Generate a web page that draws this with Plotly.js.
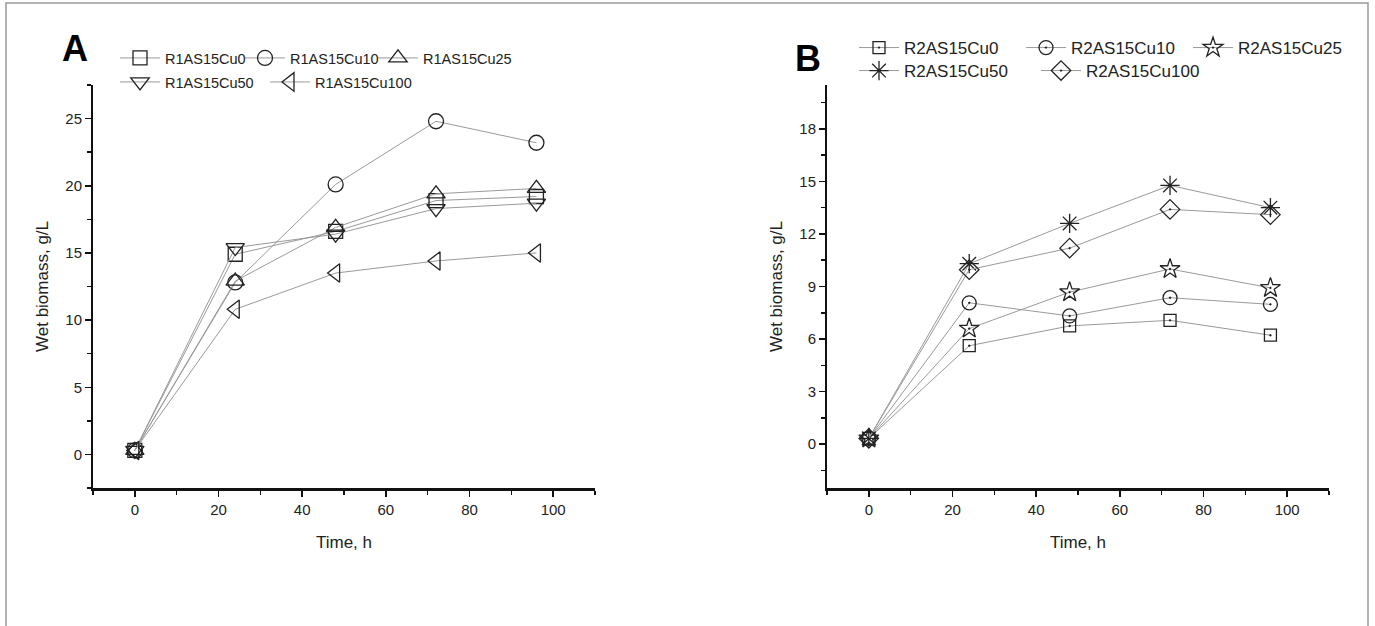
<!DOCTYPE html>
<html>
<head>
<meta charset="utf-8">
<script src="https://cdn.plot.ly/plotly-3.0.1.min.js"></script>
<style>html,body{margin:0;padding:0;background:#fff;}#chart{width:1375px;height:626px;}</style>
</head>
<body>
<div id="chart"></div>
<script>
// Time points (h)
const timeH = [0, 24, 48, 72, 96];

// Panel A: R1 series (wet biomass, g/L)
const namesA = ['R1AS15Cu0', 'R1AS15Cu10', 'R1AS15Cu25', 'R1AS15Cu50', 'R1AS15Cu100'];
const r1Cu0   = [0.3, 14.9, 16.6, 18.9, 19.2];
const r1Cu10  = [0.3, 12.8, 20.1, 24.8, 23.2];
const r1Cu25  = [0.3, 12.9, 16.9, 19.4, 19.8];
const r1Cu50  = [0.3, 15.4, 16.4, 18.3, 18.7];
const r1Cu100 = [0.3, 10.8, 13.5, 14.4, 15.0];

// Panel B: R2 series (wet biomass, g/L)
const namesB = ['R2AS15Cu0', 'R2AS15Cu10', 'R2AS15Cu25', 'R2AS15Cu50', 'R2AS15Cu100'];
const r2Cu0   = [0.33, 5.62, 6.75, 7.07, 6.22];
const r2Cu10  = [0.33, 8.07, 7.32, 8.36, 7.98];
const r2Cu25  = [0.33, 6.6, 8.68, 10.0, 8.92];
const r2Cu50  = [0.33, 10.3, 12.6, 14.77, 13.5];
const r2Cu100 = [0.33, 9.96, 11.19, 13.4, 13.1];

const seriesA = [r1Cu0, r1Cu10, r1Cu25, r1Cu50, r1Cu100];
const seriesB = [r2Cu0, r2Cu10, r2Cu25, r2Cu50, r2Cu100];

// Styling
const symA = ['square-open', 'circle-open', 'triangle-up-open', 'triangle-down-open', 'triangle-left-open'];
const symB = ['square-open-dot', 'circle-open-dot', 'star-open-dot', 'asterisk-open', 'diamond-open-dot'];
const sizeA = [14, 15, 16, 16, 16];
const sizeB = [12, 14, 15, 16, 15];
const legA = ['legend', 'legend', 'legend', 'legend2', 'legend2'];
const legB = ['legend3', 'legend3', 'legend3', 'legend4', 'legend4'];
const legWidthA = [70, 78, 100, 95, 110];
const legWidthB = [112, 112, 115, 127, 125];

const FONT = 'Liberation Sans, Arial, sans-serif';
const traces = [];
seriesA.forEach((ys, i) => traces.push({
  x: timeH, y: ys, name: namesA[i], type: 'scatter', mode: 'lines+markers',
  xaxis: 'x', yaxis: 'y', legend: legA[i], legendwidth: legWidthA[i],
  line: {color: '#9a9a9a', width: 1},
  marker: {symbol: symA[i], size: sizeA[i], color: '#222', line: {width: 1.3, color: '#222'}}
}));
seriesB.forEach((ys, i) => traces.push({
  x: timeH, y: ys, name: namesB[i], type: 'scatter', mode: 'lines+markers',
  xaxis: 'x2', yaxis: 'y2', legend: legB[i], legendwidth: legWidthB[i],
  line: {color: '#9a9a9a', width: 1},
  marker: {symbol: symB[i], size: sizeB[i], color: '#222', line: {width: 1.3, color: '#222'}}
}));

const W = 1375, H = 626;
const px = v => v / W, py = v => 1 - v / H;

function xAxis(domain) {
  return {
    domain: domain, range: [-10, 110], tick0: 0, dtick: 20,
    ticks: 'outside', ticklen: 6, tickwidth: 1.5, tickcolor: '#111',
    minor: {dtick: 10, tick0: 0, ticks: 'outside', ticklen: 4, tickwidth: 1.5, tickcolor: '#111'},
    showline: true, linewidth: 2.5, linecolor: '#111', showgrid: false, zeroline: false,
    tickfont: {family: FONT, size: 15, color: '#222'},
    title: {text: 'Time, h', font: {family: FONT, size: 17, color: '#222'}, standoff: 20},
    automargin: false, fixedrange: true
  };
}
function yAxis(range, dtick, anchor) {
  return {
    domain: [py(488), py(85)], range: range, tick0: 0, dtick: dtick, anchor: anchor,
    ticks: 'outside', ticklen: 6, tickwidth: 1.5, tickcolor: '#111',
    minor: {dtick: dtick / 2, tick0: 0, ticks: 'outside', ticklen: 4, tickwidth: 1.5, tickcolor: '#111'},
    showline: true, linewidth: 2, linecolor: '#111', showgrid: false, zeroline: false,
    tickfont: {family: FONT, size: 15, color: '#222'},
    title: {text: 'Wet biomass, g/L', font: {family: FONT, size: 17, color: '#222'}, standoff: 12},
    automargin: false, fixedrange: true
  };
}
function leg(x, y, size) {
  return {orientation: 'h', x: px(x), y: py(y), xanchor: 'left', yanchor: 'middle',
    bgcolor: 'rgba(0,0,0,0)', borderwidth: 0, itemwidth: 40, entrywidthmode: 'pixels',
    font: {family: FONT, size: size, color: '#222'},
    itemclick: false, itemdoubleclick: false};
}

const layout = {
  width: W, height: H, margin: {l: 0, r: 0, t: 0, b: 0},
  paper_bgcolor: '#fff', plot_bgcolor: '#fff', showlegend: true,
  font: {family: FONT, color: '#222'},
  xaxis: xAxis([px(93), px(595)]),
  yaxis: yAxis([-2.5, 27.5], 5, 'x'),
  xaxis2: Object.assign(xAxis([px(827), px(1329)]), {anchor: 'y2'}),
  yaxis2: yAxis([-2.5, 20.5], 3, 'x2'),
  legend: leg(115, 58, 14.5),
  legend2: leg(115, 82, 14.5),
  legend3: leg(854, 48, 17),
  legend4: leg(854, 71, 17),
  annotations: [
    {text: '<b>A</b>', xref: 'paper', yref: 'paper', x: px(75), y: py(49), showarrow: false,
     font: {family: FONT, size: 36, color: '#000'}, xanchor: 'center', yanchor: 'middle'},
    {text: '<b>B</b>', xref: 'paper', yref: 'paper', x: px(808), y: py(59), showarrow: false,
     font: {family: FONT, size: 36, color: '#000'}, xanchor: 'center', yanchor: 'middle'}
  ],
  shapes: [
    {type: 'rect', xref: 'paper', yref: 'paper', x0: px(6), x1: px(1368), y0: -0.05, y1: py(3),
     line: {color: '#999', width: 1.5}, fillcolor: 'rgba(0,0,0,0)', layer: 'below'}
  ]
};

Plotly.newPlot('chart', traces, layout, {displayModeBar: false, staticPlot: true});
</script>
</body>
</html>
